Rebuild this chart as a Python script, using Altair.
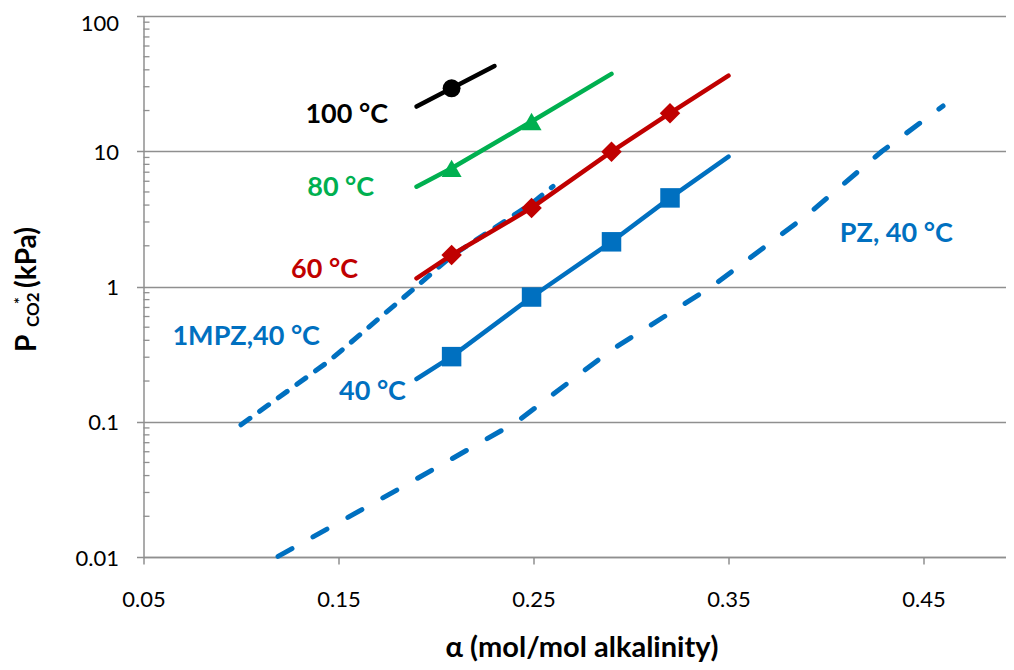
import altair as alt
import pandas as pd

# ---------------- data ----------------
# 100 °C
a100 = [0.19, 0.208, 0.23]
p100 = [21.4, 29.2, 42.7]
m100_a = [0.208]
m100_p = [29.2]
# 80 °C
a80 = [0.19, 0.208, 0.249, 0.29]
p80 = [5.47, 7.48, 16.6, 37.3]
m80_a = [0.208, 0.249]
m80_p = [7.48, 16.6]
# 60 °C
a60 = [0.19, 0.208, 0.249, 0.29, 0.32, 0.35]
p60 = [1.15, 1.71, 3.81, 9.93, 19.1, 36.2]
m60_a = [0.208, 0.249, 0.29, 0.32]
m60_p = [1.71, 3.81, 9.93, 19.1]
# 40 °C
a40 = [0.19, 0.208, 0.249, 0.29, 0.32, 0.35]
p40 = [0.207, 0.303, 0.836, 2.14, 4.52, 9.12]
m40_a = [0.208, 0.249, 0.29, 0.32]
m40_p = [0.303, 0.836, 2.14, 4.52]
# 1MPZ, 40 °C (dashed)
a1mpz = [0.10, 0.145, 0.19, 0.208, 0.249, 0.26]
p1mpz = [0.095, 0.28, 1.0, 1.68, 4.1, 5.5]
# PZ, 40 °C (dashed)
apz = [0.119, 0.18, 0.2415, 0.29, 0.3415, 0.39, 0.4287, 0.46]
ppz = [0.0101, 0.0313, 0.1, 0.34, 1.0, 3.35, 10.0, 21.6]

# annotation labels
lab_text = ["100 °C", "80 °C", "60 °C", "1MPZ,40 °C", "40 °C", "PZ, 40 °C"]
lab_a = [0.1754, 0.1683, 0.160, 0.1405, 0.1846, 0.465]
lab_p = [16.2, 4.67, 1.156, 0.369, 0.1446, 2.13]
lab_col = ["#000000", "#00B050", "#C00000", "#0070C0", "#0070C0", "#0070C0"]

x_ticks = [0.05, 0.15, 0.25, 0.35, 0.45]
y_ticks = [0.01, 0.1, 1, 10, 100]
y_minor = [m * d for d in [0.01, 0.1, 1, 10] for m in range(2, 10)]

BLACK, GREEN, RED, BLUE = "#000000", "#00B050", "#C00000", "#0070C0"
GREY = "#8f8f8f"
FONT = "Lato"

xscale = alt.Scale(domain=[0.05, 0.4923], nice=False, zero=False)
yscale = alt.Scale(type="log", domain=[0.01, 100], nice=False)

xaxis = alt.Axis(values=x_ticks, format=".2f", title=None, grid=False,
                 labelFont=FONT, labelFontSize=22, labelColor="#000000",
                 labelFlush=False,
                 tickSize=7, tickColor=GREY, tickWidth=1.5,
                 domainColor=GREY, domainWidth=1.5, labelPadding=25)
yaxis = alt.Axis(values=y_ticks, format=".2~f", title=None, grid=True,
                 gridColor=GREY, gridWidth=1.5,
                 labelFont=FONT, labelFontSize=22, labelColor="#000000",
                 labelFlush=False,
                 labelOffset={"condition": {"test": "datum.value >= 100", "value": 7}, "value": 1},
                 tickSize=7, tickColor=GREY, tickWidth=1.5,
                 domainColor=GREY, domainWidth=1.5, labelPadding=18)


def X():
    return alt.X("a:Q", scale=xscale, axis=xaxis)


def Y():
    return alt.Y("p:Q", scale=yscale, axis=yaxis)


def df(a, p):
    return pd.DataFrame({"a": a, "p": p, "i": list(range(len(a)))})


def line(a, p, color, width=4.5, dash=None):
    kw = dict(color=color, strokeWidth=width, strokeCap="round", strokeJoin="round")
    if dash:
        kw["strokeDash"] = dash
    return alt.Chart(df(a, p)).mark_line(**kw).encode(x=X(), y=Y(), order="i:Q")


def pts(a, p, color, shape, size):
    return alt.Chart(df(a, p)).mark_point(
        shape=shape, filled=True, size=size, color=color, opacity=1, strokeWidth=0
    ).encode(x=X(), y=Y())


minor = alt.Chart(pd.DataFrame({"p": y_minor})).mark_rule(
    color=GREY, strokeWidth=1.3
).encode(y=Y(), x=alt.value(0), x2=alt.value(6))

layers = [
    minor,
    line(a1mpz, p1mpz, BLUE, width=5, dash=[11, 12]),
    line(apz, ppz, BLUE, width=5, dash=[16, 24]),
    line(a100, p100, BLACK),
    line(a80, p80, GREEN),
    line(a60, p60, RED),
    line(a40, p40, BLUE),
    pts(m100_a, m100_p, BLACK, "circle", 320),
    pts(m80_a, m80_p, GREEN, "triangle-up", 400),
    pts(m60_a, m60_p, RED, "diamond", 420),
    pts(m40_a, m40_p, BLUE, "square", 380),
]

labels = alt.Chart(pd.DataFrame({"t": lab_text, "a": lab_a, "p": lab_p, "c": lab_col})).mark_text(
    align="right", baseline="alphabetic", font=FONT, fontSize=27, fontWeight="bold"
).encode(x=X(), y=Y(), text="t:N", color=alt.Color("c:N", scale=None))
layers.append(labels)


def title_piece(txt, x, y, size, angle=0, align="left"):
    return alt.Chart(pd.DataFrame({"t": [txt]})).mark_text(
        font=FONT, fontSize=size, fontWeight="bold", color="#000000",
        angle=angle, align=align, baseline="alphabetic"
    ).encode(text="t:N", x=alt.value(x), y=alt.value(y))


layers += [
    title_piece("α (mol/mol alkalinity)", 438.5, 641, 29, 0, "center"),
    title_piece("P", -107.5, 336, 28, 270),
    title_piece("CO2", -104.5, 311, 17, 270),
    title_piece("*", -118.5, 288, 16, 270),
    title_piece("(kPa)", -107.5, 272, 28, 270),
]

chart = alt.layer(*layers).properties(
    width=862.5, height=541,
    padding={"left": 135.5, "top": 8, "right": 0, "bottom": 105},
    autosize=alt.AutoSizeParams(type="none"),
).configure_view(stroke=None)

chart.save("out.html", embed_options={"renderer": "svg", "actions": False})
